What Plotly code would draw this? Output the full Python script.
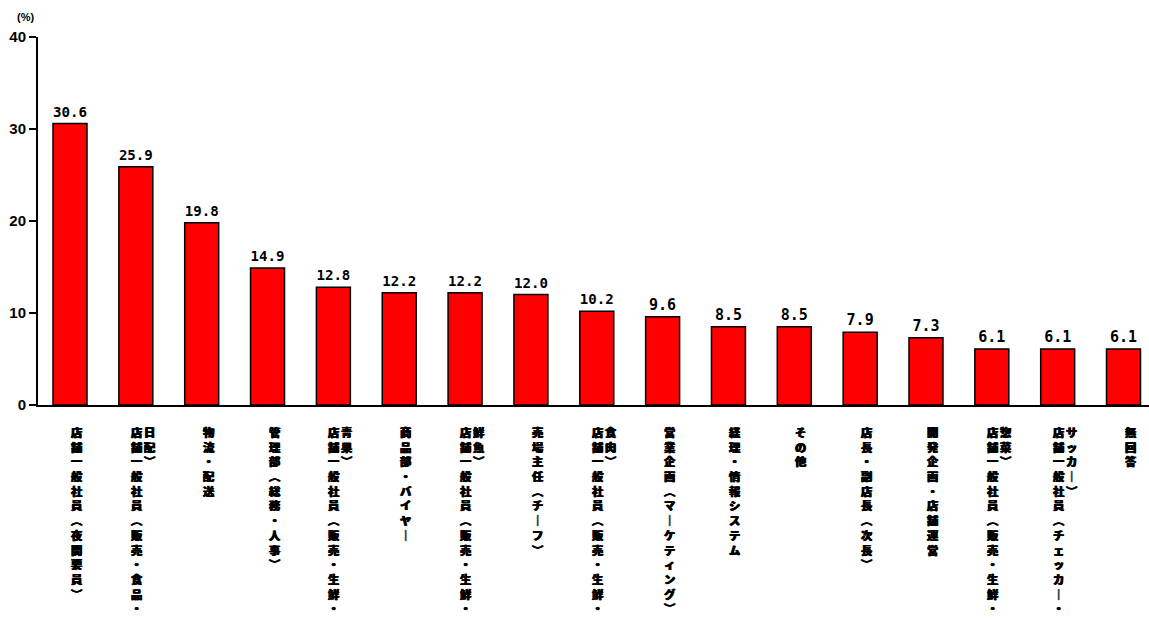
import plotly.graph_objects as go

categories = [
    "店舗一般社員（夜間要員）",
    "店舗一般社員（販売・食品・日配）",
    "物流・配送",
    "管理部（総務・人事）",
    "店舗一般社員（販売・生鮮・青果）",
    "商品部・バイヤー",
    "店舗一般社員（販売・生鮮・鮮魚）",
    "売場主任（チーフ）",
    "店舗一般社員（販売・生鮮・食肉）",
    "営業企画（マーケティング）",
    "経理・情報システム",
    "その他",
    "店長・副店長（次長）",
    "開発企画・店舗運営",
    "店舗一般社員（販売・生鮮・惣菜）",
    "店舗一般社員（チェッカー・サッカー）",
    "無回答",
]
values = [30.6, 25.9, 19.8, 14.9, 12.8, 12.2, 12.2, 12.0, 10.2, 9.6, 8.5, 8.5, 7.9, 7.3, 6.1, 6.1, 6.1]
y_ticks = [0, 10, 20, 30, 40]

VERT = {"（": "︵", "）": "︶", "ー": "｜"}
COL_LEN = 13


def vertical(s):
    return "<br>".join(VERT.get(c, c) for c in s)


fig = go.Figure()
fig.add_trace(go.Bar(
    x=categories,
    y=values,
    width=0.516,
    marker=dict(color="#ff0000", line=dict(color="#000000", width=1.5)),
    text=[f"{v:.1f}" for v in values],
    textposition="outside",
    cliponaxis=False,
    hoverinfo="skip",
    textfont=dict(family="DejaVu Sans Mono", size=15, color="#000000", weight="bold"),
))

annotations = []
label_font = dict(family="Noto Sans CJK JP", size=11.3, color="#000000", weight=900,
                  shadow="0.4px 0 0 #000, -0.4px 0 0 #000")
for cat in categories:
    col1 = cat[:COL_LEN]
    col2 = cat[COL_LEN:]
    if col2:
        cols = [(col1, 1), (col2, 14)]
    else:
        cols = [(col1, 7)]
    for txt, dx in cols:
        annotations.append(dict(
            x=cat, y=0, xref="x", yref="y",
            text=vertical(txt), showarrow=False,
            xanchor="center", yanchor="top", align="center",
            xshift=dx, yshift=-17,
            font=label_font,
        ))

annotations.append(dict(
    x=0, y=1, xref="paper", yref="paper", text="(%)", showarrow=False,
    xanchor="center", yanchor="bottom", xshift=-13, yshift=12,
    font=dict(family="Liberation Sans", size=11, color="#000000", weight="bold"),
))

fig.update_layout(
    width=1149, height=619,
    margin=dict(l=38, r=0, t=37, b=214),
    paper_bgcolor="#ffffff", plot_bgcolor="#ffffff",
    showlegend=False,
    annotations=annotations,
    xaxis=dict(
        range=[-0.486, 16.387], automargin=False,
        showticklabels=False, ticks="",
        showline=True, linecolor="#000000", linewidth=2,
        showgrid=False, zeroline=False,
    ),
    yaxis=dict(
        range=[0, 40], tickvals=y_ticks, automargin=False,
        ticks="outside", ticklen=7, tickwidth=2, tickcolor="#000000",
        showline=True, linecolor="#000000", linewidth=2,
        showgrid=False, zeroline=False,
        tickfont=dict(family="Liberation Sans", size=15, color="#000000", weight="bold"),
    ),
)

fig.write_html(
    "out.html",
    config={"displayModeBar": False},
    post_script="document.body.style.margin='0';document.body.style.overflow='hidden';",
)
